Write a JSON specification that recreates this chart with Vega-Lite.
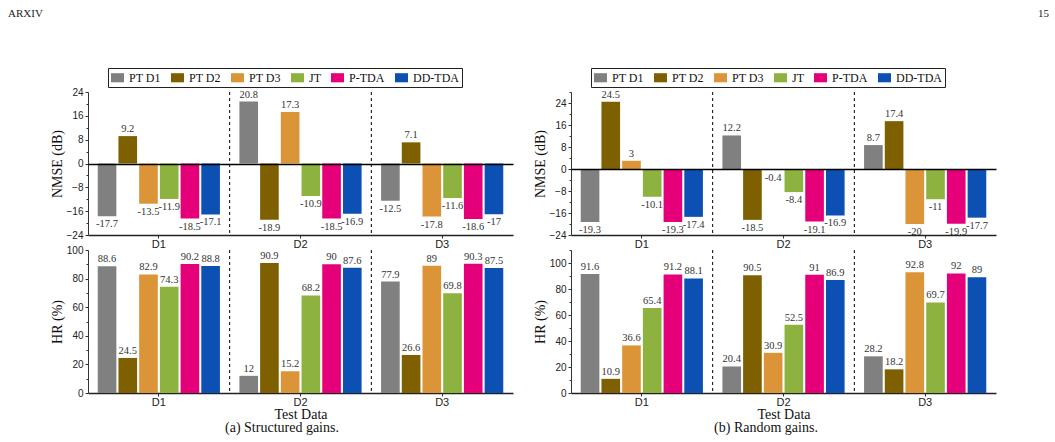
{
  "$schema": "https://vega.github.io/schema/vega-lite/v6.json",
  "padding": {"left": 8, "top": 7, "right": 5, "bottom": 5},
  "background": "white",
  "datasets": {
    "a": [
      {"test": "D1", "method": "PT D1", "nmse": -17.7, "hr": 88.6},
      {"test": "D1", "method": "PT D2", "nmse": 9.2, "hr": 24.5},
      {"test": "D1", "method": "PT D3", "nmse": -13.5, "hr": 82.9},
      {"test": "D1", "method": "JT", "nmse": -11.9, "hr": 74.3},
      {"test": "D1", "method": "P-TDA", "nmse": -18.5, "hr": 90.2},
      {"test": "D1", "method": "DD-TDA", "nmse": -17.1, "hr": 88.8},
      {"test": "D2", "method": "PT D1", "nmse": 20.8, "hr": 12},
      {"test": "D2", "method": "PT D2", "nmse": -18.9, "hr": 90.9},
      {"test": "D2", "method": "PT D3", "nmse": 17.3, "hr": 15.2},
      {"test": "D2", "method": "JT", "nmse": -10.9, "hr": 68.2},
      {"test": "D2", "method": "P-TDA", "nmse": -18.5, "hr": 90},
      {"test": "D2", "method": "DD-TDA", "nmse": -16.9, "hr": 87.6},
      {"test": "D3", "method": "PT D1", "nmse": -12.5, "hr": 77.9},
      {"test": "D3", "method": "PT D2", "nmse": 7.1, "hr": 26.6},
      {"test": "D3", "method": "PT D3", "nmse": -17.8, "hr": 89},
      {"test": "D3", "method": "JT", "nmse": -11.6, "hr": 69.8},
      {"test": "D3", "method": "P-TDA", "nmse": -18.6, "hr": 90.3},
      {"test": "D3", "method": "DD-TDA", "nmse": -17, "hr": 87.5}
    ],
    "b": [
      {"test": "D1", "method": "PT D1", "nmse": -19.3, "hr": 91.6},
      {"test": "D1", "method": "PT D2", "nmse": 24.5, "hr": 10.9},
      {"test": "D1", "method": "PT D3", "nmse": 3, "hr": 36.6},
      {"test": "D1", "method": "JT", "nmse": -10.1, "hr": 65.4},
      {"test": "D1", "method": "P-TDA", "nmse": -19.3, "hr": 91.2},
      {"test": "D1", "method": "DD-TDA", "nmse": -17.4, "hr": 88.1},
      {"test": "D2", "method": "PT D1", "nmse": 12.2, "hr": 20.4},
      {"test": "D2", "method": "PT D2", "nmse": -18.5, "hr": 90.5},
      {"test": "D2", "method": "PT D3", "nmse": -0.4, "hr": 30.9},
      {"test": "D2", "method": "JT", "nmse": -8.4, "hr": 52.5},
      {"test": "D2", "method": "P-TDA", "nmse": -19.1, "hr": 91},
      {"test": "D2", "method": "DD-TDA", "nmse": -16.9, "hr": 86.9},
      {"test": "D3", "method": "PT D1", "nmse": 8.7, "hr": 28.2},
      {"test": "D3", "method": "PT D2", "nmse": 17.4, "hr": 18.2},
      {"test": "D3", "method": "PT D3", "nmse": -20, "hr": 92.8},
      {"test": "D3", "method": "JT", "nmse": -11, "hr": 69.7},
      {"test": "D3", "method": "P-TDA", "nmse": -19.9, "hr": 92},
      {"test": "D3", "method": "DD-TDA", "nmse": -17.7, "hr": 89}
    ],
    "seps": [{"test": "D2"}, {"test": "D3"}]
  },
  "hconcat": [
    {
      "title": {"text": "(a) Structured gains.", "orient": "bottom", "anchor": "start", "align": "center", "frame": "group", "dx": 194, "offset": 0, "font": "Liberation Serif", "fontSize": 14, "fontWeight": "normal", "color": "#111"},
      "vconcat": [
        {
          "width": 425, "height": 143,
          "title": {"text": "ARXIV", "anchor": "start", "frame": "bounds", "dx": -42, "offset": 49, "font": "Liberation Serif", "fontSize": 11, "fontWeight": "normal", "color": "#222"},
          "data": {"name": "a"},
          "layer": [
            {
              "mark": {"type": "bar"},
              "encoding": {
                "x": {"field": "test", "type": "nominal", "scale": {"type": "band", "paddingInner": 0, "paddingOuter": 0}, "axis": {"title": null}},
                "xOffset": {"field": "method", "type": "nominal", "sort": ["PT D1", "PT D2", "PT D3", "JT", "P-TDA", "DD-TDA"], "scale": {"paddingInner": 0.1, "paddingOuter": 0.47}},
                "y": {"field": "nmse", "type": "quantitative", "scale": {"domain": [-24, 24], "nice": false}, "axis": {"orient": "left", "values": [-24, -16, -8, 0, 8, 16, 24], "title": "NMSE (dB)"}},
                "color": {"field": "method", "type": "nominal", "scale": {"domain": ["PT D1", "PT D2", "PT D3", "JT", "P-TDA", "DD-TDA"], "range": ["#808080", "#7f6000", "#dc9438", "#8db240", "#e5007a", "#0c50b4"]},
                  "legend": {"orient": "none", "legendX": 20, "legendY": -24, "direction": "horizontal", "columns": 6, "title": null, "symbolType": "M-1,-0.7L1,-0.7L1,0.7L-1,0.7Z", "symbolSize": 169, "symbolStrokeWidth": 0, "symbolOpacity": 1, "labelFont": "Liberation Serif", "labelFontSize": 12, "labelColor": "#111", "labelOffset": 5, "columnPadding": 10, "padding": 3, "strokeColor": "#222"}}
              }
            },
            {
              "transform": [{"filter": "datum.nmse >= 0"}],
              "mark": {"type": "text", "baseline": "bottom", "dy": -2},
              "encoding": {
                "x": {"field": "test", "type": "nominal", "axis": {"title": null}},
                "xOffset": {"field": "method", "type": "nominal", "sort": ["PT D1", "PT D2", "PT D3", "JT", "P-TDA", "DD-TDA"]},
                "y": {"field": "nmse", "type": "quantitative", "axis": {"orient": "left", "values": [-20, -12, -4, 4, 12, 20], "labels": false, "domain": false, "tickSize": 2, "title": null}},
                "text": {"field": "nmse", "type": "nominal"}
              }
            },
            {
              "transform": [{"filter": "datum.nmse < 0"}],
              "mark": {"type": "text", "baseline": "top", "dy": 3},
              "encoding": {
                "x": {"field": "test", "type": "nominal", "axis": {"title": null}},
                "xOffset": {"field": "method", "type": "nominal", "sort": ["PT D1", "PT D2", "PT D3", "JT", "P-TDA", "DD-TDA"]},
                "y": {"field": "nmse", "type": "quantitative", "axis": {"orient": "left", "values": [0], "labels": false, "domain": false, "ticks": false, "title": null, "grid": true, "gridColor": "#000", "gridWidth": 1.5, "zindex": 1}},
                "text": {"field": "nmse", "type": "nominal"}
              }
            },
            {
              "data": {"name": "seps"},
              "mark": {"type": "rule", "strokeDash": [3, 3], "color": "#000", "strokeWidth": 1},
              "encoding": {"x": {"field": "test", "type": "nominal", "bandPosition": 0, "axis": {"title": null}}}
            }
          ],
          "resolve": {"axis": {"y": "independent"}}
        },
        {
          "width": 425, "height": 143,
          "data": {"name": "a"},
          "layer": [
            {
              "mark": {"type": "bar"},
              "encoding": {
                "x": {"field": "test", "type": "nominal", "scale": {"type": "band", "paddingInner": 0, "paddingOuter": 0}, "axis": {"title": "Test Data"}},
                "xOffset": {"field": "method", "type": "nominal", "sort": ["PT D1", "PT D2", "PT D3", "JT", "P-TDA", "DD-TDA"], "scale": {"paddingInner": 0.1, "paddingOuter": 0.47}},
                "y": {"field": "hr", "type": "quantitative", "scale": {"domain": [0, 100], "nice": false}, "axis": {"orient": "left", "values": [0, 20, 40, 60, 80, 100], "title": "HR (%)"}},
                "color": {"field": "method", "type": "nominal", "scale": {"domain": ["PT D1", "PT D2", "PT D3", "JT", "P-TDA", "DD-TDA"], "range": ["#808080", "#7f6000", "#dc9438", "#8db240", "#e5007a", "#0c50b4"]}, "legend": null}
              }
            },
            {
              "mark": {"type": "text", "baseline": "bottom", "dy": -2},
              "encoding": {
                "x": {"field": "test", "type": "nominal", "axis": {"title": "Test Data"}},
                "xOffset": {"field": "method", "type": "nominal", "sort": ["PT D1", "PT D2", "PT D3", "JT", "P-TDA", "DD-TDA"]},
                "y": {"field": "hr", "type": "quantitative", "axis": {"orient": "left", "values": [10, 30, 50, 70, 90], "labels": false, "domain": false, "tickSize": 2, "title": null}},
                "text": {"field": "hr", "type": "nominal"}
              }
            },
            {
              "data": {"name": "seps"},
              "mark": {"type": "rule", "strokeDash": [3, 3], "color": "#000", "strokeWidth": 1},
              "encoding": {"x": {"field": "test", "type": "nominal", "bandPosition": 0, "axis": {"title": "Test Data"}}}
            }
          ],
          "resolve": {"axis": {"y": "independent"}}
        }
      ],
      "spacing": 15,
      "bounds": "flush",
      "resolve": {"scale": {"color": "independent"}}
    },
    {
      "title": {"text": "(b) Random gains.", "orient": "bottom", "anchor": "start", "align": "center", "frame": "group", "dx": 195, "offset": 0, "font": "Liberation Serif", "fontSize": 14, "fontWeight": "normal", "color": "#111"},
      "vconcat": [
        {
          "width": 425, "height": 143,
          "title": {"text": "15", "anchor": "end", "frame": "group", "dx": 53, "offset": 49, "font": "Liberation Serif", "fontSize": 11, "fontWeight": "normal", "color": "#222"},
          "data": {"name": "b"},
          "layer": [
            {
              "mark": {"type": "bar"},
              "encoding": {
                "x": {"field": "test", "type": "nominal", "scale": {"type": "band", "paddingInner": 0, "paddingOuter": 0}, "axis": {"title": null}},
                "xOffset": {"field": "method", "type": "nominal", "sort": ["PT D1", "PT D2", "PT D3", "JT", "P-TDA", "DD-TDA"], "scale": {"paddingInner": 0.1, "paddingOuter": 0.47}},
                "y": {"field": "nmse", "type": "quantitative", "scale": {"domain": [-24, 28], "nice": false}, "axis": {"orient": "left", "values": [-24, -16, -8, 0, 8, 16, 24], "title": "NMSE (dB)"}},
                "color": {"field": "method", "type": "nominal", "scale": {"domain": ["PT D1", "PT D2", "PT D3", "JT", "P-TDA", "DD-TDA"], "range": ["#808080", "#7f6000", "#dc9438", "#8db240", "#e5007a", "#0c50b4"]},
                  "legend": {"orient": "none", "legendX": 20, "legendY": -24, "direction": "horizontal", "columns": 6, "title": null, "symbolType": "M-1,-0.7L1,-0.7L1,0.7L-1,0.7Z", "symbolSize": 169, "symbolStrokeWidth": 0, "symbolOpacity": 1, "labelFont": "Liberation Serif", "labelFontSize": 12, "labelColor": "#111", "labelOffset": 5, "columnPadding": 10, "padding": 3, "strokeColor": "#222"}}
              }
            },
            {
              "transform": [{"filter": "datum.nmse >= 0"}],
              "mark": {"type": "text", "baseline": "bottom", "dy": -2},
              "encoding": {
                "x": {"field": "test", "type": "nominal", "axis": {"title": null}},
                "xOffset": {"field": "method", "type": "nominal", "sort": ["PT D1", "PT D2", "PT D3", "JT", "P-TDA", "DD-TDA"]},
                "y": {"field": "nmse", "type": "quantitative", "axis": {"orient": "left", "values": [-20, -12, -4, 4, 12, 20, 28], "labels": false, "domain": false, "tickSize": 2, "title": null}},
                "text": {"field": "nmse", "type": "nominal"}
              }
            },
            {
              "transform": [{"filter": "datum.nmse < 0"}],
              "mark": {"type": "text", "baseline": "top", "dy": 3},
              "encoding": {
                "x": {"field": "test", "type": "nominal", "axis": {"title": null}},
                "xOffset": {"field": "method", "type": "nominal", "sort": ["PT D1", "PT D2", "PT D3", "JT", "P-TDA", "DD-TDA"]},
                "y": {"field": "nmse", "type": "quantitative", "axis": {"orient": "left", "values": [0], "labels": false, "domain": false, "ticks": false, "title": null, "grid": true, "gridColor": "#000", "gridWidth": 1.5, "zindex": 1}},
                "text": {"field": "nmse", "type": "nominal"}
              }
            },
            {
              "data": {"name": "seps"},
              "mark": {"type": "rule", "strokeDash": [3, 3], "color": "#000", "strokeWidth": 1},
              "encoding": {"x": {"field": "test", "type": "nominal", "bandPosition": 0, "axis": {"title": null}}}
            }
          ],
          "resolve": {"axis": {"y": "independent"}}
        },
        {
          "width": 425, "height": 143,
          "data": {"name": "b"},
          "layer": [
            {
              "mark": {"type": "bar"},
              "encoding": {
                "x": {"field": "test", "type": "nominal", "scale": {"type": "band", "paddingInner": 0, "paddingOuter": 0}, "axis": {"title": "Test Data"}},
                "xOffset": {"field": "method", "type": "nominal", "sort": ["PT D1", "PT D2", "PT D3", "JT", "P-TDA", "DD-TDA"], "scale": {"paddingInner": 0.1, "paddingOuter": 0.47}},
                "y": {"field": "hr", "type": "quantitative", "scale": {"domain": [0, 110], "nice": false}, "axis": {"orient": "left", "values": [0, 20, 40, 60, 80, 100], "title": "HR (%)"}},
                "color": {"field": "method", "type": "nominal", "scale": {"domain": ["PT D1", "PT D2", "PT D3", "JT", "P-TDA", "DD-TDA"], "range": ["#808080", "#7f6000", "#dc9438", "#8db240", "#e5007a", "#0c50b4"]}, "legend": null}
              }
            },
            {
              "mark": {"type": "text", "baseline": "bottom", "dy": -2},
              "encoding": {
                "x": {"field": "test", "type": "nominal", "axis": {"title": "Test Data"}},
                "xOffset": {"field": "method", "type": "nominal", "sort": ["PT D1", "PT D2", "PT D3", "JT", "P-TDA", "DD-TDA"]},
                "y": {"field": "hr", "type": "quantitative", "axis": {"orient": "left", "values": [10, 30, 50, 70, 90, 110], "labels": false, "domain": false, "tickSize": 2, "title": null}},
                "text": {"field": "hr", "type": "nominal"}
              }
            },
            {
              "data": {"name": "seps"},
              "mark": {"type": "rule", "strokeDash": [3, 3], "color": "#000", "strokeWidth": 1},
              "encoding": {"x": {"field": "test", "type": "nominal", "bandPosition": 0, "axis": {"title": "Test Data"}}}
            }
          ],
          "resolve": {"axis": {"y": "independent"}}
        }
      ],
      "spacing": 15,
      "bounds": "flush",
      "resolve": {"scale": {"color": "independent"}}
    }
  ],
  "spacing": 20,
  "resolve": {"scale": {"color": "independent"}},
  "config": {
    "view": {"stroke": null},
    "axis": {"grid": false, "labelFont": "Liberation Sans", "labelFontSize": 10, "labelColor": "#222", "titleFont": "Liberation Serif", "titleFontSize": 14, "titleFontWeight": "normal", "titleColor": "#111", "domainColor": "#333", "tickColor": "#333"},
    "axisX": {"labelAngle": 0, "domainWidth": 1.5, "domainColor": "#222", "tickSize": 3, "labelPadding": 0, "titlePadding": 0, "labelFontSize": 11},
    "axisY": {"tickSize": 3, "labelPadding": 2, "titlePadding": 2},
    "text": {"font": "Liberation Serif", "fontSize": 10.5, "color": "#333"}
  }
}
